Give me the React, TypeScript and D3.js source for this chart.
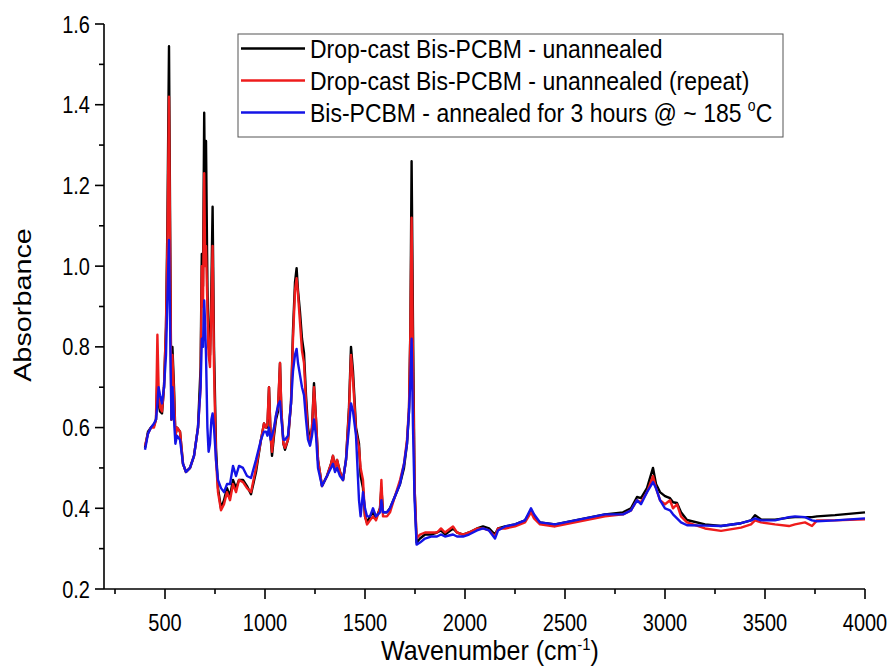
import React from "react";
import * as d3 from "d3";

const wavenumbers = [400,415,430,445,455,462,468,475,485,495,505,512,520,527,532,537,545,552,560,575,590,605,625,645,665,678,684,690,696,701,705,712,718,725,732,738,745,755,765,780,795,810,825,840,855,870,890,910,930,955,980,995,1005,1012,1020,1028,1035,1045,1055,1065,1075,1082,1092,1100,1115,1130,1140,1150,1158,1165,1175,1185,1195,1205,1215,1225,1235,1245,1255,1265,1285,1310,1330,1340,1350,1360,1375,1390,1405,1420,1430,1440,1455,1470,1478,1490,1500,1510,1525,1540,1555,1575,1582,1590,1610,1625,1650,1675,1695,1710,1720,1727,1733,1740,1748,1758,1775,1800,1830,1860,1880,1900,1940,1960,1990,2020,2060,2090,2120,2150,2165,2200,2250,2300,2330,2345,2375,2450,2550,2650,2700,2790,2830,2860,2880,2910,2940,2955,2975,3000,3025,3040,3060,3080,3110,3200,3280,3380,3430,3450,3480,3550,3620,3650,3700,3735,3760,3850,4000];

const unannealed = [0.55,0.59,0.60,0.605,0.62,0.72,0.66,0.64,0.635,0.70,0.85,1.10,1.545,1.00,0.62,0.80,0.70,0.58,0.60,0.59,0.51,0.49,0.50,0.53,0.60,0.75,1.03,0.95,1.38,1.10,1.31,0.95,0.80,0.78,0.95,1.147,0.80,0.55,0.45,0.40,0.42,0.45,0.43,0.47,0.45,0.47,0.47,0.455,0.435,0.49,0.57,0.61,0.60,0.60,0.70,0.58,0.53,0.58,0.62,0.64,0.76,0.64,0.56,0.545,0.57,0.66,0.84,0.96,0.995,0.94,0.886,0.82,0.785,0.68,0.60,0.565,0.60,0.71,0.62,0.52,0.455,0.48,0.51,0.53,0.50,0.52,0.49,0.47,0.52,0.65,0.80,0.74,0.60,0.56,0.48,0.45,0.38,0.365,0.38,0.39,0.375,0.40,0.45,0.39,0.39,0.40,0.43,0.46,0.50,0.56,0.64,0.85,1.26,0.85,0.45,0.315,0.325,0.335,0.335,0.34,0.345,0.335,0.35,0.34,0.335,0.34,0.35,0.355,0.35,0.335,0.35,0.355,0.36,0.37,0.395,0.38,0.365,0.36,0.37,0.38,0.385,0.39,0.40,0.428,0.425,0.45,0.50,0.46,0.44,0.43,0.425,0.415,0.413,0.39,0.371,0.36,0.356,0.363,0.37,0.383,0.372,0.372,0.377,0.378,0.378,0.378,0.38,0.383,0.39];

const unannealedRepeat = [0.555,0.585,0.60,0.60,0.62,0.83,0.70,0.65,0.64,0.70,0.85,1.05,1.42,0.95,0.62,0.78,0.68,0.58,0.60,0.59,0.51,0.49,0.50,0.53,0.60,0.70,1.00,0.90,1.23,1.00,1.05,0.90,0.78,0.75,0.90,1.05,0.75,0.52,0.44,0.395,0.41,0.44,0.42,0.46,0.44,0.47,0.465,0.45,0.44,0.50,0.57,0.61,0.60,0.61,0.70,0.58,0.54,0.59,0.63,0.65,0.76,0.64,0.56,0.55,0.57,0.66,0.82,0.94,0.97,0.93,0.86,0.79,0.76,0.66,0.58,0.57,0.60,0.70,0.62,0.52,0.455,0.48,0.51,0.53,0.50,0.52,0.49,0.47,0.52,0.64,0.78,0.72,0.59,0.55,0.50,0.47,0.38,0.36,0.37,0.38,0.37,0.40,0.47,0.38,0.38,0.39,0.43,0.47,0.51,0.57,0.65,0.84,1.12,0.75,0.45,0.325,0.335,0.34,0.34,0.34,0.35,0.34,0.355,0.34,0.335,0.34,0.35,0.35,0.345,0.33,0.35,0.35,0.355,0.365,0.39,0.375,0.36,0.355,0.365,0.375,0.38,0.385,0.395,0.42,0.415,0.44,0.48,0.45,0.42,0.41,0.42,0.40,0.41,0.38,0.365,0.35,0.344,0.352,0.36,0.37,0.365,0.36,0.356,0.36,0.365,0.356,0.37,0.37,0.373];

const annealed = [0.545,0.585,0.60,0.61,0.62,0.66,0.70,0.68,0.66,0.70,0.78,0.92,1.065,0.80,0.62,0.70,0.62,0.56,0.58,0.57,0.51,0.49,0.50,0.53,0.60,0.70,0.82,0.80,0.915,0.85,0.78,0.60,0.54,0.56,0.62,0.635,0.60,0.52,0.47,0.45,0.44,0.46,0.46,0.505,0.48,0.505,0.50,0.48,0.475,0.52,0.57,0.59,0.59,0.58,0.60,0.57,0.58,0.60,0.63,0.655,0.665,0.62,0.57,0.57,0.58,0.66,0.74,0.78,0.795,0.76,0.73,0.70,0.68,0.62,0.57,0.555,0.58,0.62,0.58,0.50,0.455,0.48,0.50,0.51,0.49,0.50,0.48,0.47,0.52,0.60,0.66,0.64,0.58,0.42,0.38,0.44,0.40,0.38,0.38,0.40,0.38,0.39,0.42,0.39,0.39,0.40,0.43,0.46,0.51,0.56,0.64,0.72,0.82,0.60,0.42,0.31,0.315,0.325,0.33,0.33,0.335,0.33,0.335,0.33,0.33,0.335,0.345,0.35,0.345,0.325,0.345,0.355,0.36,0.37,0.40,0.385,0.365,0.36,0.37,0.38,0.385,0.385,0.395,0.42,0.41,0.44,0.465,0.45,0.42,0.40,0.395,0.385,0.375,0.365,0.358,0.357,0.356,0.363,0.37,0.375,0.37,0.37,0.378,0.38,0.378,0.37,0.368,0.37,0.375];

const seriesNames = [
  "Drop-cast Bis-PCBM - unannealed",
  "Drop-cast Bis-PCBM - unannealed (repeat)",
  "Bis-PCBM - annealed for 3 hours @ ~ 185 ",
];
const seriesColors = ["#000000", "#ee1c1c", "#1414e6"];
const xTickValues = [500, 1000, 1500, 2000, 2500, 3000, 3500, 4000];
const yTickValues = [0.2, 0.4, 0.6, 0.8, 1.0, 1.2, 1.4, 1.6];

const FONT = "'Liberation Sans', Arial, sans-serif";
const SY = 1.2;

export default function App() {
  const left = 104, right = 865, top = 24, bottom = 589;
  const x = d3.scaleLinear().domain([195, 4000]).range([left, right]);
  const y = d3.scaleLinear().domain([0.2, 1.6]).range([bottom, top]);
  const allSeries = [unannealed, unannealedRepeat, annealed];
  const line = d3
    .line<number>()
    .x((_, i) => x(wavenumbers[i]))
    .y((v) => y(v));
  const xMinor = d3.range(250, 4001, 250).filter((v) => v % 500 !== 0);
  const yMinor = d3.range(3, 16, 2).map((v) => v / 10);

  return (
    <svg width={889} height={669} style={{ position: "absolute", left: 0, top: 0, background: "#fff" }} fontFamily={FONT}>
      <rect x={0} y={0} width={889} height={669} fill="#fff" />
      {allSeries.map((s, k) => (
        <path key={k} d={line(s) || ""} fill="none" stroke={seriesColors[k]} strokeWidth={2.4} strokeLinejoin="round" />
      ))}
      <line x1={left} x2={left} y1={top} y2={bottom} stroke="#000" strokeWidth={1.6} />
      <line x1={left} x2={right} y1={bottom} y2={bottom} stroke="#000" strokeWidth={1.6} />
      {yTickValues.map((v) => (
        <g key={v}>
          <line x1={left - 9} x2={left} y1={y(v)} y2={y(v)} stroke="#000" strokeWidth={1.6} />
          <text transform={`translate(${left - 14},${y(v) + 8.5}) scale(1,${SY})`} textAnchor="end" fontSize={20}>{v.toFixed(1)}</text>
        </g>
      ))}
      {yMinor.map((v) => (
        <line key={v} x1={left - 5} x2={left} y1={y(v)} y2={y(v)} stroke="#000" strokeWidth={1.6} />
      ))}
      {xTickValues.map((v) => (
        <g key={v}>
          <line x1={x(v)} x2={x(v)} y1={bottom} y2={bottom + 10} stroke="#000" strokeWidth={1.6} />
          <text transform={`translate(${x(v)},${bottom + 42}) scale(1,${SY})`} textAnchor="middle" fontSize={20}>{v}</text>
        </g>
      ))}
      {xMinor.map((v) => (
        <line key={v} x1={x(v)} x2={x(v)} y1={bottom} y2={bottom + 5} stroke="#000" strokeWidth={1.6} />
      ))}
      <text transform={`translate(31,305) rotate(-90) scale(${SY},1)`} textAnchor="middle" fontSize={24}>Absorbance</text>
      <text transform="translate(490,660) scale(1,1.1)" textAnchor="middle" fontSize={25}>
        Wavenumber (cm<tspan dy={-9} fontSize={15}>-1</tspan><tspan dy={9}>)</tspan>
      </text>
      <rect x={238} y={34} width={545} height={103} fill="#fff" stroke="#555" strokeWidth={1} />
      {seriesNames.map((name, k) => (
        <g key={k}>
          <line x1={241} x2={305} y1={48.5 + k * 32} y2={48.5 + k * 32} stroke={seriesColors[k]} strokeWidth={2.4} />
          <text transform={`translate(310,${57.5 + k * 32}) scale(1,1.15)`} fontSize={23}>
            {name}
            {k === 2 ? (
              <>
                <tspan dy={-9} fontSize={14}>o</tspan>
                <tspan dy={9}>C</tspan>
              </>
            ) : null}
          </text>
        </g>
      ))}
    </svg>
  );
}
